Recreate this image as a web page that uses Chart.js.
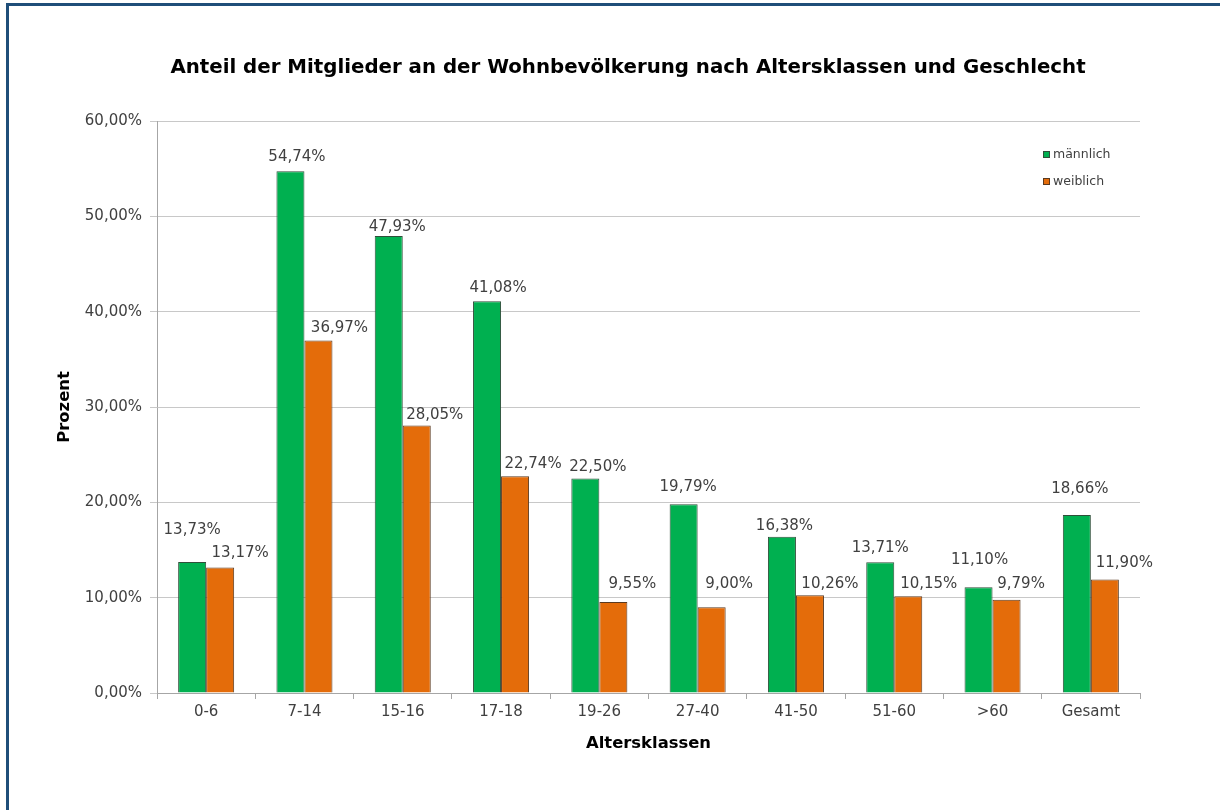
<!DOCTYPE html>
<html lang="de">
<head>
<meta charset="utf-8">
<title>Anteil der Mitglieder an der Wohnbevölkerung</title>
<script src="https://cdn.jsdelivr.net/npm/chart.js@4"></script>
<style>
    html, body { margin: 0; padding: 0; background: #fff; }
    #wrap { position: relative; width: 1220px; height: 810px; overflow: hidden; }
    #frame {
        position: absolute; left: 6px; top: 3px; width: 1300px; height: 900px;
        border-top: 3px solid #1f4e79; border-left: 3px solid #1f4e79;
    }
    canvas { position: absolute; left: 0; top: 0; }
</style>
</head>
<body>
<div id="wrap">
    <div id="frame"></div>
    <canvas id="chart" width="1220" height="810"></canvas>
</div>
<script>
// --- DATA ---
const chartTitle = 'Anteil der Mitglieder an der Wohnbevölkerung nach Altersklassen und Geschlecht';
const categories = ['0-6', '7-14', '15-16', '17-18', '19-26', '27-40', '41-50', '51-60', '>60', 'Gesamt'];
const maleValues = [13.73, 54.74, 47.93, 41.08, 22.50, 19.79, 16.38, 13.71, 11.10, 18.66];
const femaleValues = [13.17, 36.97, 28.05, 22.74, 9.55, 9.00, 10.26, 10.15, 9.79, 11.90];
const yTickLabels = ['0,00%', '10,00%', '20,00%', '30,00%', '40,00%', '50,00%', '60,00%'];

// label nudges (px from the top centre of each bar), as Excel placed them
const maleLabelDx = [0, 6.5, 8.5, 11, 12.5, 4.5, 2.5, 0, 1, 3];
const maleLabelDy = [-32, -14, -9, -13, -11, -17, -11, -14, -27, -26];
const femaleLabelDx = [20, 21, 18, 18, 19, 17.5, 20, 20.5, 14.5, 19.5];
const femaleLabelDy = [-14, -12, -10, -12, -18, -23, -11, -12, -16, -16];

const FONT = "'DejaVu Sans', Verdana, sans-serif";
const TEXT_COLOR = '#404040';

const formatPct = v => v.toFixed(2).replace('.', ',') + '%';

// --- PLUGINS ---
// the Excel title sits centred on the whole chart object, not on the plot
const excelTitle = {
    id: 'excelTitle',
    afterDraw(chart) {
        const ctx = chart.ctx;
        ctx.save();
        ctx.font = 'bold 19.8px ' + FONT;
        ctx.fillStyle = '#000';
        ctx.textAlign = 'center';
        ctx.textBaseline = 'middle';
        ctx.fillText(chartTitle, chart.width / 2 + 18, 68);
        ctx.restore();
    }
};

const valueLabels = {
    id: 'valueLabels',
    afterDatasetsDraw(chart) {
        const ctx = chart.ctx;
        const nudges = [[maleLabelDx, maleLabelDy], [femaleLabelDx, femaleLabelDy]];
        ctx.save();
        ctx.font = '15px ' + FONT;
        ctx.fillStyle = TEXT_COLOR;
        ctx.textAlign = 'center';
        ctx.textBaseline = 'middle';
        chart.data.datasets.forEach((ds, i) => {
            const meta = chart.getDatasetMeta(i);
            meta.data.forEach((bar, j) => {
                ctx.fillText(formatPct(ds.data[j]), bar.x + nudges[i][0][j], bar.y + nudges[i][1][j]);
            });
        });
        ctx.restore();
    }
};

const boxLegend = {
    id: 'boxLegend',
    afterDraw(chart) {
        const ctx = chart.ctx;
        const x = chart.chartArea.right - 97;
        let y = chart.chartArea.top + 34;
        ctx.save();
        ctx.font = '12.5px ' + FONT;
        ctx.textBaseline = 'middle';
        ctx.textAlign = 'left';
        chart.data.datasets.forEach(ds => {
            ctx.fillStyle = ds.backgroundColor;
            ctx.fillRect(x, y - 4, 7, 7);
            ctx.strokeStyle = ds.borderColor;
            ctx.lineWidth = 1;
            ctx.strokeRect(x + 0.5, y - 3.5, 6, 6);
            ctx.fillStyle = TEXT_COLOR;
            ctx.fillText(ds.label, x + 10, y);
            y += 27;
        });
        ctx.restore();
    }
};

// --- CHART ---
new Chart(document.getElementById('chart'), {
    type: 'bar',
    data: {
        labels: categories,
        datasets: [
            {
                label: 'männlich',
                data: maleValues,
                backgroundColor: '#00b050',
                borderColor: '#2f4f3a',
                borderWidth: 1,
                categoryPercentage: 0.57,
                barPercentage: 1
            },
            {
                label: 'weiblich',
                data: femaleValues,
                backgroundColor: '#e46c0a',
                borderColor: '#5a3a20',
                borderWidth: 1,
                categoryPercentage: 0.57,
                barPercentage: 1
            }
        ]
    },
    options: {
        responsive: false,
        animation: false,
        layout: { padding: { left: 0, right: 80, top: 121, bottom: 47 } },
        plugins: {
            legend: { display: false },
            tooltip: { enabled: false },
            title: { display: false }
        },
        scales: {
            x: {
                grid: { display: true, drawOnChartArea: false, color: '#a6a6a6', tickLength: 6, offset: true },
                border: { color: '#a6a6a6' },
                ticks: { color: TEXT_COLOR, font: { family: FONT, size: 15 }, padding: 4, maxRotation: 0 },
                title: {
                    display: true,
                    text: 'Altersklassen',
                    color: '#000',
                    font: { family: FONT, size: 16.4, weight: 'bold', lineHeight: 1.2 },
                    padding: { top: 0, bottom: 9.2 }
                },
                afterFit: scale => { scale.height = 70; }
            },
            y: {
                min: 0,
                max: 60,
                grid: { color: '#c8c8c8', tickLength: 7 },
                border: { color: '#a6a6a6' },
                ticks: {
                    stepSize: 10,
                    color: TEXT_COLOR,
                    font: { family: FONT, size: 15 },
                    padding: 8,
                    callback: (value, index) => yTickLabels[index]
                },
                title: {
                    display: true,
                    text: 'Prozent',
                    color: '#000',
                    font: { family: FONT, size: 16.4, weight: 'bold', lineHeight: 1.2 },
                    padding: { top: 55.2, bottom: 0 }
                },
                afterFit: scale => { scale.width = 157; }
            }
        }
    },
    plugins: [valueLabels, boxLegend, excelTitle]
});
</script>
</body>
</html>
